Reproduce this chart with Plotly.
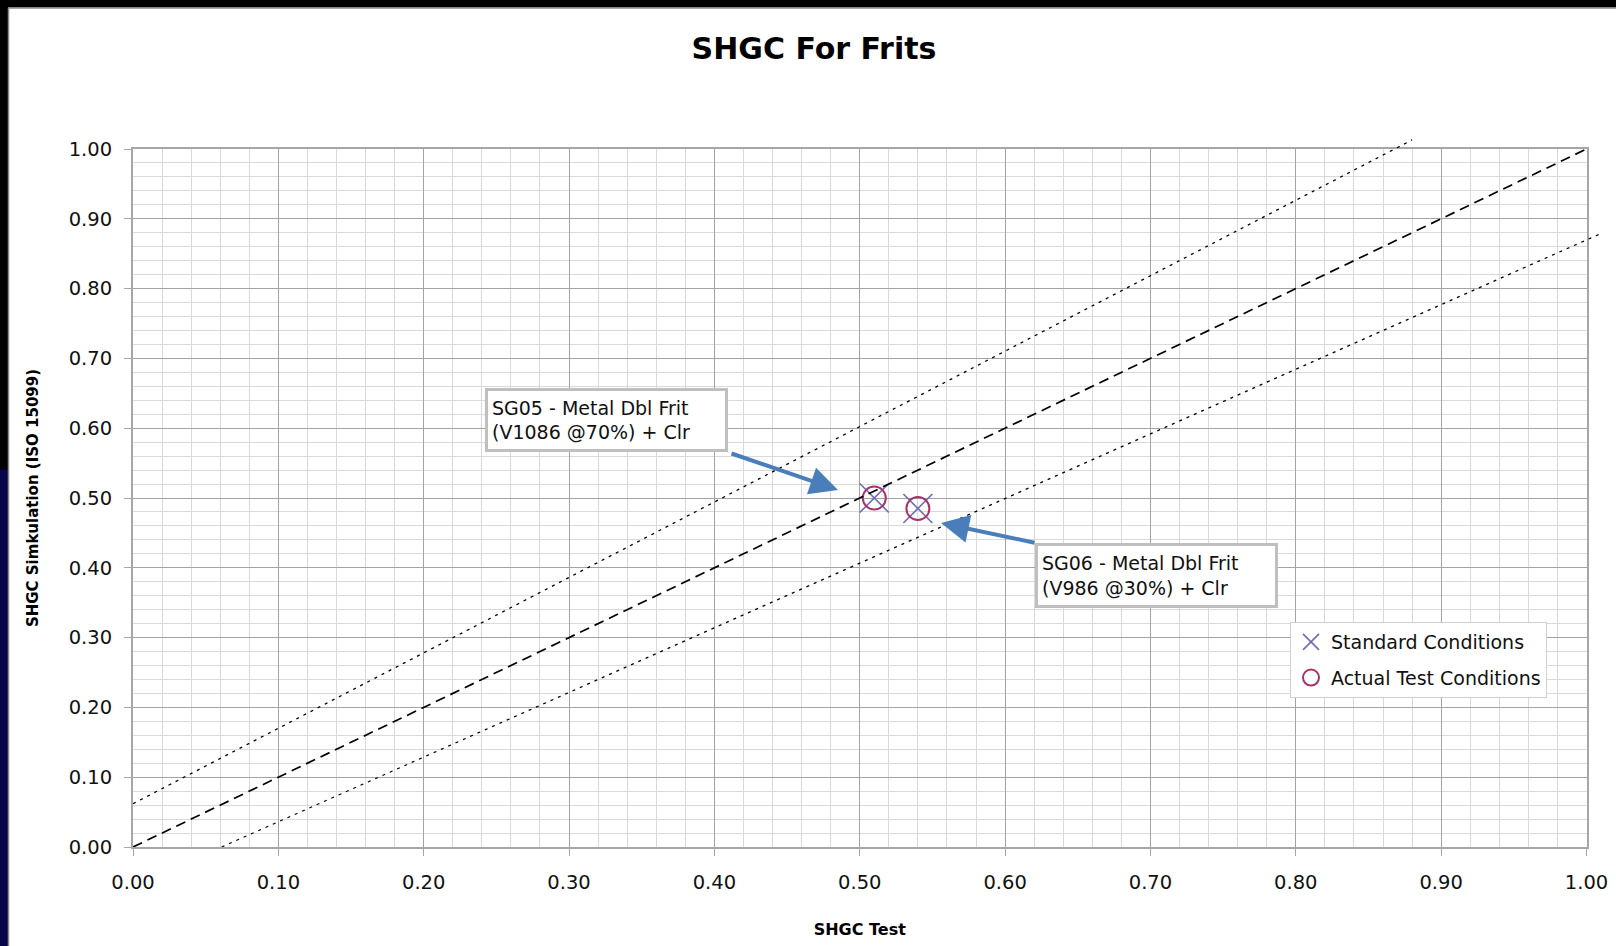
import plotly.graph_objects as go

# ---------------- data ----------------
shgc_test = [0.51, 0.54]
std_sim = [0.50, 0.485]
act_sim = [0.50, 0.485]

ref_x = [0.0, 1.0]
ref_y = [0.0, 1.0]
upper_x = [0.0, 0.88]
upper_y = [0.062, 1.013]
lower_x = [0.061, 1.01]
lower_y = [0.0, 0.879]

x_ticks = [0.0, 0.1, 0.2, 0.3, 0.4, 0.5, 0.6, 0.7, 0.8, 0.9, 1.0]
y_ticks = [0.0, 0.1, 0.2, 0.3, 0.4, 0.5, 0.6, 0.7, 0.8, 0.9, 1.0]

# ---------------- geometry (pixels) ----------------
W, H = 1616, 946
L, R, T, B = 133, 10, 130, 99
PW = W - L - R          # 1473
PH = H - T - B          # 717
plot_w = 1453.5         # pixel width of 0..1 on x
plot_h = 698.0          # pixel height of 0..1 on y
xdom = plot_w / PW
ydom = plot_h / PH

def px(xpix):
    return (xpix - L) / PW

def py(ypix):
    return (H - B - ypix) / PH

FONT = "'DejaVu Sans', Verdana, sans-serif"
X_COL = "#6C6CB4"
O_COL = "#A8326A"
ARROW = "#4A7EBB"

fig = go.Figure()

# reference lines on an extended overlay subplot so they may run past the frame
fig.add_trace(go.Scatter(x=upper_x, y=upper_y, mode="lines", xaxis="x2", yaxis="y2",
                         line=dict(color="black", width=1.3, dash="3px,5px"),
                         showlegend=False, hoverinfo="skip"))
fig.add_trace(go.Scatter(x=lower_x, y=lower_y, mode="lines", xaxis="x2", yaxis="y2",
                         line=dict(color="black", width=1.3, dash="3px,5px"),
                         showlegend=False, hoverinfo="skip"))
fig.add_trace(go.Scatter(x=ref_x, y=ref_y, mode="lines", xaxis="x2", yaxis="y2",
                         line=dict(color="black", width=1.7, dash="10px,6px"),
                         showlegend=False, hoverinfo="skip"))

fig.add_trace(go.Scatter(x=shgc_test, y=std_sim, mode="markers", name="Standard Conditions",
                         legendgroup="a",
                         marker=dict(symbol="x-thin-open", size=29, color=X_COL,
                                     line=dict(color=X_COL, width=1.6))))
fig.add_trace(go.Scatter(x=shgc_test, y=act_sim, mode="markers", name="Actual Test Conditions",
                         legendgroup="b",
                         marker=dict(symbol="circle-open", size=23, color=O_COL,
                                     line=dict(color=O_COL, width=2))))

axis_common = dict(
    range=[0, 1], tickmode="array", tickformat=".2f",
    showgrid=True, gridcolor="#a3a3a3", gridwidth=1,
    minor=dict(dtick=0.02, showgrid=True, gridcolor="#d9d9d9", gridwidth=1),
    showline=True, linecolor="#a6a6a6", linewidth=2, mirror=True,
    ticks="outside", ticklen=7, tickcolor="#a6a6a6", tickwidth=1,
    zeroline=False,
    tickfont=dict(family=FONT, size=19.5, color="#111111"),
)

fig.update_layout(
    width=W, height=H,
    margin=dict(l=L, r=R, t=T, b=B, autoexpand=False),
    paper_bgcolor="white",
    plot_bgcolor="rgba(0,0,0,0)",
    font=dict(family=FONT, color="#111111"),
    title=dict(text="<b>SHGC For Frits</b>", x=814 / W, xref="container", xanchor="center",
               y=1 - 48 / H, yref="container", yanchor="middle",
               font=dict(family=FONT, size=30, color="black")),
    xaxis=dict(axis_common, domain=[0, xdom], anchor="y", tickvals=x_ticks,
               ticklabelstandoff=10,
               title=dict(text="<b>SHGC Test</b>", standoff=30,
                          font=dict(family=FONT, size=16, color="black"))),
    yaxis=dict(axis_common, domain=[0, ydom], anchor="x", tickvals=y_ticks,
               ticklabelstandoff=8,
               title=dict(text="<b>SHGC Simkulation (ISO 15099)</b>", standoff=26,
                          font=dict(family=FONT, size=15, color="black"))),
    xaxis2=dict(domain=[0, 1], anchor="y2", range=[0, PW / plot_w], visible=False),
    yaxis2=dict(domain=[0, 1], anchor="x2", range=[0, PH / plot_h], visible=False),
    legend=dict(x=px(1290), y=py(622), xanchor="left", yanchor="top",
                bgcolor="white", bordercolor="#d0d0d0", borderwidth=1,
                font=dict(family=FONT, size=19, color="#111111"),
                tracegroupgap=8, itemwidth=30),
    showlegend=True,
)

# frame bands (slide background) and chart border
shapes = [
    dict(type="rect", xref="paper", yref="paper", x0=px(0), x1=px(W + 5), y0=py(7.5), y1=py(-5),
         fillcolor="black", line=dict(width=0), layer="above"),
    dict(type="rect", xref="paper", yref="paper", x0=px(-5), x1=px(8), y0=py(470), y1=py(-5),
         fillcolor="black", line=dict(width=0), layer="above"),
    dict(type="rect", xref="paper", yref="paper", x0=px(-5), x1=px(8), y0=py(H + 5), y1=py(470),
         fillcolor="#07074a", line=dict(width=0), layer="above"),
    dict(type="line", xref="paper", yref="paper", x0=px(8.5), x1=px(W + 5), y0=py(8), y1=py(8),
         line=dict(color="#8a8a8a", width=1.5), layer="above"),
    dict(type="line", xref="paper", yref="paper", x0=px(8.5), x1=px(8.5), y0=py(8), y1=py(H + 5),
         line=dict(color="#8a8a8a", width=1.5), layer="above"),
]
fig.update_layout(shapes=shapes)

# annotations: arrows and callout boxes
ann = []
def dx(p):
    return (p - 133) / plot_w
def dy(p):
    return (847 - p) / plot_h

ann.append(dict(x=dx(838), y=dy(490), ax=dx(730), ay=dy(453), axref="x", ayref="y",
                xref="x", yref="y", text="", showarrow=True, arrowhead=2, arrowsize=1.4,
                arrowwidth=4, arrowcolor=ARROW, standoff=0, startstandoff=0))
ann.append(dict(x=dx(941), y=dy(523), ax=dx(1036), ay=dy(543), axref="x", ayref="y",
                xref="x", yref="y", text="", showarrow=True, arrowhead=2, arrowsize=1.4,
                arrowwidth=4, arrowcolor=ARROW, standoff=0, startstandoff=0))
ann.append(dict(x=dx(485), y=dy(388), xref="x", yref="y", xanchor="left", yanchor="top",
                text="SG05 - Metal Dbl Frit<br>(V1086 @70%) + Clr", showarrow=False,
                align="left", width=229, height=50, bgcolor="white",
                bordercolor="#bfbfbf", borderwidth=3, borderpad=4,
                font=dict(family=FONT, size=19, color="#111111")))
ann.append(dict(x=dx(1035), y=dy(543), xref="x", yref="y", xanchor="left", yanchor="top",
                text="SG06 - Metal Dbl Frit<br>(V986 @30%) + Clr", showarrow=False,
                align="left", width=229, height=51, bgcolor="white",
                bordercolor="#bfbfbf", borderwidth=3, borderpad=4,
                font=dict(family=FONT, size=19, color="#111111")))
fig.update_layout(annotations=ann)

fig.write_html("out.html", config={"displayModeBar": False},
               post_script="document.body.style.margin='0px';")
